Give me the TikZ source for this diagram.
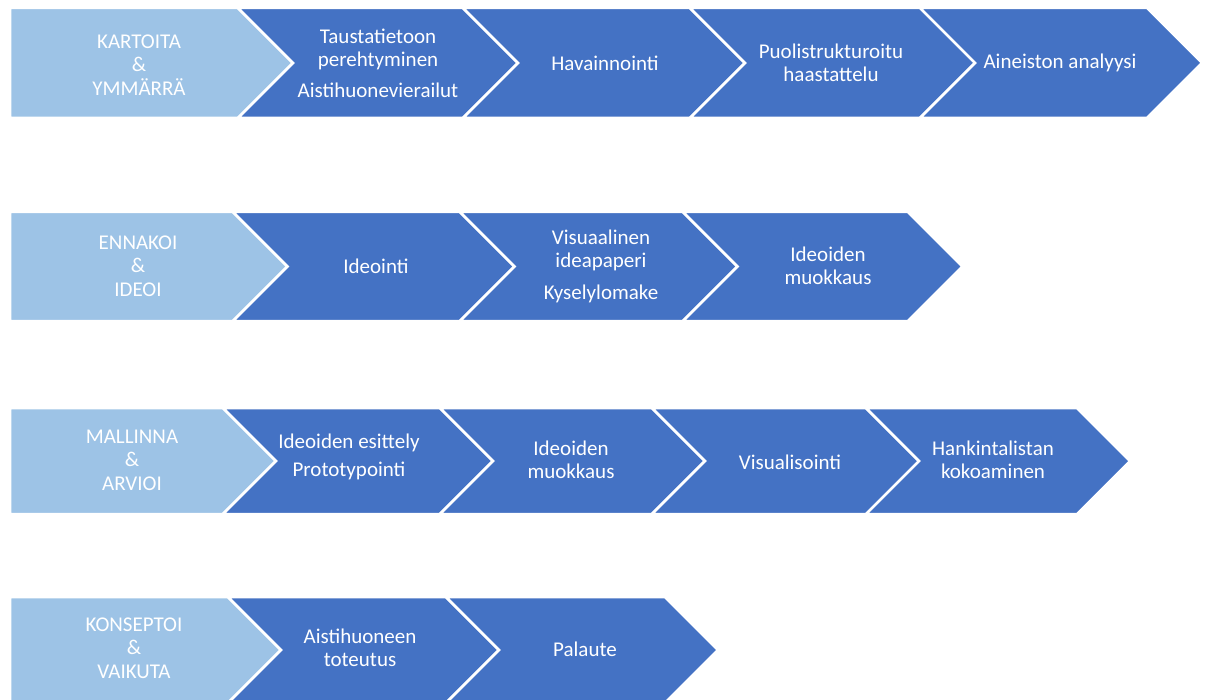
\documentclass[tikz,border=0pt]{standalone}
\usepackage{fontspec}
\setmainfont{Carlito}
\definecolor{phaseblue}{HTML}{9DC3E6}
\definecolor{stepblue}{HTML}{4472C4}
% first arrow of a row: flat left end, pointed right end
% #1 x-left, #2 x-right (top corner), #3 top, #4 half height, #5 fill colour
\newcommand\phasearrow[5]{%
  \filldraw[chevronline, fill=#5] (#1,#3) -- (#2,#3) -- ({#2+#4},{#3+#4})
    -- (#2,{#3+2*#4}) -- (#1,{#3+2*#4}) -- cycle;}
% following chevrons: notched left end
\newcommand\stepchevron[5]{%
  \filldraw[chevronline, fill=#5] (#1,#3) -- (#2,#3) -- ({#2+#4},{#3+#4})
    -- (#2,{#3+2*#4}) -- (#1,{#3+2*#4}) -- ({#1+#4},{#3+#4}) -- cycle;}
\begin{document}
\begin{tikzpicture}[x=1pt,y=-1pt,
  chevronline/.style={draw=white, line width=2.5pt, line join=miter},
  label/.style={text=white, align=center, inner sep=0pt,
    font=\fontsize{21}{23.5}\selectfont}]
\useasboundingbox (0,0) rectangle (1206,700);

% row 1
\phasearrow{10}{238}{8}{55}{phaseblue}
\stepchevron{238}{463}{8}{55}{stepblue}
\stepchevron{463}{690}{8}{55}{stepblue}
\stepchevron{690}{920}{8}{55}{stepblue}
\stepchevron{920}{1147}{8}{55}{stepblue}
\node[label] (r1a) at (139,65) {KARTOITA\\\&\\YMMÄRRÄ};
\node[label] (r1b) at (378,63) {Taustatietoon\\perehtyminen\\[7pt]Aistihuonevierailut};
\node[label] (r1c) at (605,63) {Havainnointi};
\node[label] (r1d) at (831,63) {Puolistrukturoitu\\haastattelu};
\node[label] (r1e) at (1060,63) {Aineiston analyysi};

% row 2
\phasearrow{10}{233}{212}{54.5}{phaseblue}
\stepchevron{233}{460}{212}{54.5}{stepblue}
\stepchevron{460}{683}{212}{54.5}{stepblue}
\stepchevron{683}{908}{212}{54.5}{stepblue}
\node[label] (r2a) at (138,266) {ENNAKOI\\\&\\IDEOI};
\node[label] (r2b) at (376,266) {Ideointi};
\node[label] (r2c) at (601,266) {Visuaalinen\\ideapaperi\\[8pt]Kyselylomake};
\node[label] (r2d) at (828,266) {Ideoiden\\muokkaus};

% row 3
\phasearrow{10}{223}{408}{53}{phaseblue}
\stepchevron{223}{440}{408}{53}{stepblue}
\stepchevron{440}{652}{408}{53}{stepblue}
\stepchevron{652}{866}{408}{53}{stepblue}
\stepchevron{866}{1077}{408}{53}{stepblue}
\node[label] (r3a) at (132,460) {MALLINNA\\\&\\ARVIOI};
\node[label] (r3b) at (349,457) {Ideoiden esittely\\[4pt]Prototypointi};
\node[label] (r3c) at (571,460) {Ideoiden\\muokkaus};
\node[label] (r3d) at (790,462) {Visualisointi};
\node[label] (r3e) at (993,460) {Hankintalistan\\kokoaminen};

% row 4
\phasearrow{10}{228}{597}{53}{phaseblue}
\stepchevron{228}{446}{597}{53}{stepblue}
\stepchevron{446}{665}{597}{53}{stepblue}
\node[label] (r4a) at (134,648) {KONSEPTOI\\\&\\VAIKUTA};
\node[label] (r4b) at (360,648) {Aistihuoneen\\toteutus};
\node[label] (r4c) at (585,649) {Palaute};
\end{tikzpicture}
\end{document}
